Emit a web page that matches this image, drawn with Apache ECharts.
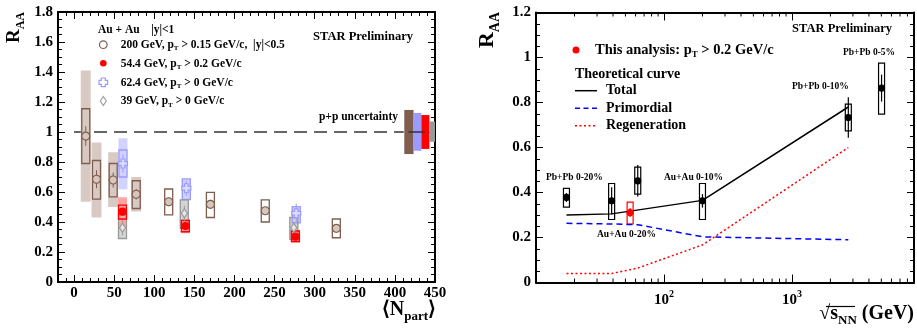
<!DOCTYPE html>
<html><head><meta charset="utf-8">
<script src="https://cdn.jsdelivr.net/npm/echarts@6/dist/echarts.min.js"></script>
<style>html,body{margin:0;padding:0;background:#fff}#c{width:917px;height:331px}</style>
</head><body><div id="c"></div>
<script>
// ---------------- Left panel: Au+Au R_AA vs <Npart> ----------------
const npart200 = [14.6, 28, 48.8, 77.5, 118, 170, 238.4, 327];
const raa200   = [0.973, 0.685, 0.68, 0.585, 0.535, 0.518, 0.475, 0.358];
const stat200  = [0.065, 0.06, 0.05, 0.035, 0.03, 0.03, 0.025, 0.025];
const box200   = [[0.79,1.155],[0.553,0.81],[0.567,0.79],[0.49,0.675],[0.447,0.62],[0.43,0.598],[0.40,0.547],[0.295,0.42]];
const band200  = [[0.535,1.41],[0.43,0.93],[0.5,0.865],[0.47,0.70],null,null,null,null];

const npart54 = [60.4, 138.8, 276];
const raa54   = [0.469, 0.373, 0.302];
const stat54  = [0.025, 0.02, 0.015];
const box54   = [[0.42,0.513],[0.335,0.41],[0.27,0.34]];
const band54  = [[0.37,0.565],[0.325,0.42],[0.262,0.348]];

const npart62 = [61, 140, 277];
const raa62   = [0.79, 0.625, 0.458];
const stat62  = [0.06, 0.05, 0.065];
const box62   = [[0.70,0.88],[0.55,0.687],[0.395,0.502]];
const band62  = [[0.618,0.958],[0.55,0.687],[0.395,0.502]];

const npart39 = [60.4, 137.5, 274];
const raa39   = [0.362, 0.458, 0.362];
const stat39  = [0.05, 0.05, 0.04];
const box39   = [[0.29,0.447],[0.358,0.547],[0.285,0.43]];
const band39  = [[0.29,0.447],[0.358,0.547],[0.285,0.43]];

// p+p normalisation uncertainty bars: [N_lo, N_hi, R_lo, R_hi]
const ppUnc = [[411.7,423.3,0.853,1.147],[423.3,433,0.875,1.127],[433,443,0.887,1.113],[443,450,0.935,1.07]];
const ppColors = ['#7f5e4f','#9a9aff','#ff0000','#999999'];

// ---------------- Right panel: R_AA vs sqrt(s_NN) ----------------
const energy  = [17.3, 39, 54.4, 62.4, 200, 2760, 5020];
const raaE    = [0.378, 0.363, 0.311, 0.452, 0.363, 0.733, 0.864];
const statE   = [0.02, 0.06, 0.02, 0.07, 0.03, 0.09, 0.06];
const boxE    = [[0.335,0.418],[0.28,0.44],[0.26,0.357],[0.393,0.513],[0.28,0.44],[0.674,0.793],[0.748,0.975]];
const thisAnalysisIndex = 2;
const sysLabels = ['Pb+Pb 0-20%','Au+Au 0-20%','Au+Au 0-10%','Pb+Pb 0-10%','Pb+Pb 0-5%'];

const thTotal = [[17.3,0.30],[39,0.305],[200,0.365],[2760,0.78]];
const thPrim  = [[17.3,0.263],[39,0.26],[62.4,0.257],[200,0.203],[2760,0.19]];
const thRegen = [[17.3,0.04],[39,0.04],[62.4,0.064],[200,0.167],[2760,0.6]];

const logMinorTicks = [20,30,40,50,60,70,80,90,200,300,400,500,600,700,800,900,2000,3000,4000,5000,6000,7000,8000];

// ---------------- styling ----------------
const F = '"Liberation Serif","Times New Roman",Times,serif';
const C200='#7f5e4f', B200='#d8cac2';
const C54='#ff0000',  B54='#ffa3a3';
const C62='#9a9aff',  B62='#d2d2ff';
const C39='#999999',  B39='#d4d4d4';

function rectSeries(xi, xs, ranges, w, fill, stroke, lw, z){
  const data = xs.map((x,i)=> ranges[i] ? [x, ranges[i][0], ranges[i][1]] : null).filter(Boolean);
  return {type:'custom', xAxisIndex:xi, yAxisIndex:xi, z, silent:true, data,
    renderItem(p, api){
      const a = api.coord([api.value(0), api.value(2)]);
      const b = api.coord([api.value(0), api.value(1)]);
      return {type:'rect', shape:{x:a[0]-w/2, y:a[1], width:w, height:b[1]-a[1]},
        style:{fill:fill, stroke:stroke, lineWidth:lw}};
    }};
}
function errSeries(xi, xs, ys, es, color, lw, z){
  const data = xs.map((x,i)=>[x, ys[i]-es[i], ys[i]+es[i]]);
  return {type:'custom', xAxisIndex:xi, yAxisIndex:xi, z, silent:true, data,
    renderItem(p, api){
      const a = api.coord([api.value(0), api.value(2)]);
      const b = api.coord([api.value(0), api.value(1)]);
      return {type:'line', shape:{x1:a[0], y1:a[1], x2:b[0], y2:b[1]}, style:{stroke:color, lineWidth:lw}};
    }};
}
function scatter(xi, xs, ys, symbol, size, fill, stroke, z){
  return {type:'scatter', xAxisIndex:xi, yAxisIndex:xi, z, silent:true, symbol, symbolSize:size,
    data: xs.map((x,i)=>[x, ys[i]]),
    itemStyle:{color:fill, borderColor:stroke, borderWidth:1.2, opacity:1}};
}
const crossPath = 'path://M3,0 L7,0 L7,3 L10,3 L10,7 L7,7 L7,10 L3,10 L3,7 L0,7 L0,3 L3,3 Z';

function rich(fs){
  return {
    a:{fontFamily:F, fontWeight:'bold', fontSize:fs, lineHeight:fs, verticalAlign:'top', color:'#000'},
    sub:{fontFamily:F, fontWeight:'bold', fontSize:Math.round(fs*0.65), verticalAlign:'bottom', padding:[Math.round(fs*0.55),0,0,0], color:'#000'},
    r:{fontFamily:F, fontWeight:'bold', fontSize:fs, lineHeight:fs, verticalAlign:'top', color:'#ff0000'}
  };
}
// text whose main line is vertically centered at cy
function txt(x, cy, text, fs, align, extra){
  return Object.assign({type:'text', x:x, y:cy-fs/2, silent:true,
    style:{text:text, rich:rich(fs), align:align||'left', verticalAlign:'top'}}, extra||{});
}

const baseX = (gi, pos, showLabel) => ({
  gridIndex:gi, position:pos, type:'value', min:-20, max:450, splitNumber:9,
  axisLine:{show:true, onZero:false, lineStyle:{color:'#000', width:2}},
  axisTick:{show:true, inside:true, length:7, lineStyle:{color:'#000', width:1}},
  minorTick:{show:true, splitNumber:5, length:4, lineStyle:{color:'#000', width:1}},
  splitLine:{show:false},
  axisLabel:{show:showLabel, margin:4, fontFamily:F, fontWeight:'bold', fontSize:15, color:'#000',
    formatter:v=> v<0 ? '' : String(v)}
});
const baseY = (gi, pos, max, showLabel) => ({
  gridIndex:gi, position:pos, type:'value', min:0, max:max, interval:0.2,
  axisLine:{show:true, onZero:false, lineStyle:{color:'#000', width:2}},
  axisTick:{show:true, inside:true, length:7, lineStyle:{color:'#000', width:1}},
  minorTick:{show:true, splitNumber:4, length:4, lineStyle:{color:'#000', width:1}},
  splitLine:{show:false},
  axisLabel:{show:showLabel, margin:5, fontFamily:F, fontWeight:'bold', fontSize:15, color:'#000'}
});
const logX = (pos, showLabel) => ({
  gridIndex:1, position:pos, type:'log', logBase:10, min:10, max:9000,
  axisLine:{show:true, onZero:false, lineStyle:{color:'#000', width:2}},
  axisTick:{show:true, inside:true, length:8, lineStyle:{color:'#000', width:1}},
  minorTick:{show:false}, splitLine:{show:false},
  axisLabel:{show:showLabel, margin:7, color:'#000',
    formatter:v=> v===100 ? '{b|10}{sup|2}' : (v===1000 ? '{b|10}{sup|3}' : ''),
    rich:{b:{fontFamily:F, fontWeight:'bold', fontSize:15, verticalAlign:'bottom'},
          sup:{fontFamily:F, fontWeight:'bold', fontSize:10, verticalAlign:'top', padding:[0,0,8,0]}}}
});

const series = [];
// left panel: bands
series.push(rectSeries(0, npart200, band200, 10, B200, null, 0, 1));
series.push(rectSeries(0, npart62, band62, 9, B62, null, 0, 1));
series.push(rectSeries(0, npart39, band39, 9, B39, null, 0, 1));
series.push(rectSeries(0, npart54, band54, 9, B54, null, 0, 1));
// boxes
series.push(rectSeries(0, npart200, box200, 8, 'rgba(0,0,0,0)', C200, 1.3, 2));
series.push(rectSeries(0, npart62, box62, 8, 'rgba(0,0,0,0)', C62, 1.3, 2));
series.push(rectSeries(0, npart39, box39, 8, 'rgba(0,0,0,0)', C39, 1.3, 2));
series.push(rectSeries(0, npart54, box54, 8, 'rgba(0,0,0,0)', C54, 1.3, 2));
// stat errors
series.push(errSeries(0, npart200, raa200, stat200, C200, 1, 3));
series.push(errSeries(0, npart62, raa62, stat62, C62, 1, 3));
series.push(errSeries(0, npart39, raa39, stat39, C39, 1, 3));
series.push(errSeries(0, npart54, raa54, stat54, C54, 1, 3));
// markers
series.push(scatter(0, npart200, raa200, 'circle', 8, '#d6c6bd', C200, 4));
series.push(scatter(0, npart62, raa62, crossPath, 9, '#dcdcff', C62, 4));
series.push(scatter(0, npart39, raa39, 'diamond', [6,9], '#e6e6e6', C39, 4));
series.push(scatter(0, npart54, raa54, 'circle', 7, C54, C54, 4));
// reference line at 1 and p+p uncertainty
series.push({type:'line', xAxisIndex:0, yAxisIndex:0, z:0, silent:true, symbol:'none',
  data:[[0,1],[411,1]], lineStyle:{color:'#666', width:2, type:[13,7]}});
series.push({type:'custom', xAxisIndex:0, yAxisIndex:0, z:1, silent:true, data:ppUnc,
  renderItem(p, api){
    const a = api.coord([api.value(0), api.value(3)]);
    const b = api.coord([api.value(1), api.value(2)]);
    return {type:'rect', shape:{x:a[0], y:a[1], width:b[0]-a[0], height:b[1]-a[1]},
      style:{fill:ppColors[p.dataIndex]}};
  }});
series.push({type:'line', xAxisIndex:0, yAxisIndex:0, z:2, silent:true, symbol:'none',
  data:[[417,1],[437,1]], lineStyle:{color:'#333', width:1.5}});

// right panel
const idxOthers = energy.map((e,i)=>i).filter(i=>i!==thisAnalysisIndex);
const pick = (arr, idx) => idx.map(i=>arr[i]);
series.push(rectSeries(1, pick(energy,idxOthers), pick(boxE,idxOthers), 6, 'rgba(0,0,0,0)', '#000', 1.2, 2));
series.push(rectSeries(1, [energy[thisAnalysisIndex]], [boxE[thisAnalysisIndex]], 6, 'rgba(0,0,0,0)', '#ff0000', 1.2, 2));
series.push(errSeries(1, pick(energy,idxOthers), pick(raaE,idxOthers), pick(statE,idxOthers), '#000', 1.2, 3));
series.push(errSeries(1, [energy[thisAnalysisIndex]], [raaE[thisAnalysisIndex]], [statE[thisAnalysisIndex]], '#ff0000', 1.2, 3));
series.push(scatter(1, pick(energy,idxOthers), pick(raaE,idxOthers), 'circle', 6, '#000', '#000', 4));
series.push(scatter(1, [energy[thisAnalysisIndex]], [raaE[thisAnalysisIndex]], 'circle', 6, '#ff0000', '#ff0000', 4));
series.push({type:'line', xAxisIndex:1, yAxisIndex:1, z:2, silent:true, symbol:'none', data:thTotal,
  lineStyle:{color:'#000', width:1.5}});
series.push({type:'line', xAxisIndex:1, yAxisIndex:1, z:2, silent:true, symbol:'none', data:thPrim,
  lineStyle:{color:'#0000ff', width:1.5, type:[6,4]}});
series.push({type:'line', xAxisIndex:1, yAxisIndex:1, z:2, silent:true, symbol:'none', data:thRegen,
  lineStyle:{color:'#ff0000', width:1.5, type:[2,2.5]}});
// log minor ticks (bottom and top) through the log scale
series.push({type:'custom', xAxisIndex:1, yAxisIndex:1, z:5, silent:true, clip:false,
  data:logMinorTicks.map(v=>[v,0]),
  renderItem(p, api){
    const b = api.coord([api.value(0), 0]);
    const t = api.coord([api.value(0), 1.2]);
    return {type:'group', children:[
      {type:'line', shape:{x1:b[0], y1:b[1], x2:b[0], y2:b[1]-4}, style:{stroke:'#000', lineWidth:1}},
      {type:'line', shape:{x1:t[0], y1:t[1], x2:t[0], y2:t[1]+4}, style:{stroke:'#000', lineWidth:1}}
    ]};
  }});

// ---------------- texts / legends ----------------
const graphic = [
  // left legend
  txt(98, 30, '{a|Au + Au    |y|<1}', 11.5),
  {type:'circle', shape:{cx:103.3, cy:44.7, r:3.8}, style:{fill:'#fff', stroke:C200, lineWidth:1.2}, silent:true},
  txt(120.7, 44.7, '{a|200 GeV, p}{sub|T}{a| > 0.15 GeV/c,  |y|<0.5}', 11.5),
  {type:'circle', shape:{cx:103.3, cy:63.3, r:3.3}, style:{fill:C54}, silent:true},
  txt(120.7, 63.3, '{a|54.4 GeV, p}{sub|T}{a| > 0.2 GeV/c}', 11.5),
  {type:'polygon', shape:{points:[[101.3,78],[105.3,78],[105.3,80.3],[107.6,80.3],[107.6,84.3],[105.3,84.3],[105.3,86.6],[101.3,86.6],[101.3,84.3],[99,84.3],[99,80.3],[101.3,80.3]]}, style:{fill:'#fff', stroke:C62, lineWidth:1.2}, silent:true},
  txt(120.7, 82.3, '{a|62.4 GeV, p}{sub|T}{a| > 0 GeV/c}', 11.5),
  {type:'polygon', shape:{points:[[103.3,96.5],[106.3,101],[103.3,105.5],[100.3,101]]}, style:{fill:'#fff', stroke:C39, lineWidth:1.1}, silent:true},
  txt(120.7, 101, '{a|39 GeV, p}{sub|T}{a| > 0 GeV/c}', 11.5),
  txt(413, 36.7, '{r|STAR Preliminary}', 12.5, 'right'),
  txt(398, 116.7, '{a|p+p uncertainty}', 11.5, 'right'),
  // left axis titles
  {type:'text', x:16, y:12, rotation:Math.PI/2, silent:true,
    style:{text:'{R|R}{s|AA}', align:'right', verticalAlign:'middle',
      rich:{R:{fontFamily:F, fontWeight:'bold', fontSize:19, lineHeight:19, verticalAlign:'top'},
            s:{fontFamily:F, fontWeight:'bold', fontSize:12, verticalAlign:'bottom', padding:[10,0,0,0]}}}},
  {type:'text', x:436, y:300, silent:true,
    style:{text:'{R|⟨N}{s|part}{R|⟩}', align:'right', verticalAlign:'top',
      rich:{R:{fontFamily:F, fontWeight:'bold', fontSize:20, lineHeight:20, verticalAlign:'top'},
            s:{fontFamily:F, fontWeight:'bold', fontSize:13, verticalAlign:'bottom', padding:[10,0,0,0]}}}},
  // right legend
  {type:'circle', shape:{cx:576, cy:50, r:3.5}, style:{fill:'#ff0000'}, silent:true},
  txt(595, 49.5, '{a|This analysis: p}{sub|T}{a| > 0.2 GeV/c}', 14.5),
  txt(575, 74.3, '{a|Theoretical curve}', 14),
  {type:'line', shape:{x1:575, y1:90.7, x2:597, y2:90.7}, style:{stroke:'#000', lineWidth:1.5}, silent:true},
  txt(606, 90.7, '{a|Total}', 14),
  {type:'line', shape:{x1:575, y1:108.3, x2:597, y2:108.3}, style:{stroke:'#0000ff', lineWidth:1.5, lineDash:[5,3.5]}, silent:true},
  txt(606, 108.3, '{a|Primordial}', 14),
  {type:'line', shape:{x1:575, y1:125.7, x2:597, y2:125.7}, style:{stroke:'#ff0000', lineWidth:1.5, lineDash:[2,2.5]}, silent:true},
  txt(606, 125.7, '{a|Regeneration}', 14),
  txt(892, 29, '{r|STAR Preliminary}', 12.5, 'right'),
  // system labels
  txt(546, 177.7, '{a|'+sysLabels[0]+'}', 9.5),
  txt(597, 234, '{a|'+sysLabels[1]+'}', 9.5),
  txt(664, 177.7, '{a|'+sysLabels[2]+'}', 9.5),
  txt(792, 86.7, '{a|'+sysLabels[3]+'}', 9.5),
  txt(843, 52.7, '{a|'+sysLabels[4]+'}', 9.5),
  // right axis titles
  {type:'text', x:489, y:12, rotation:Math.PI/2, silent:true,
    style:{text:'{R|R}{s|AA}', align:'right', verticalAlign:'middle',
      rich:{R:{fontFamily:F, fontWeight:'bold', fontSize:22, lineHeight:22, verticalAlign:'top'},
            s:{fontFamily:F, fontWeight:'bold', fontSize:14, verticalAlign:'bottom', padding:[12,0,0,0]}}}},
  {type:'text', x:914, y:304, silent:true,
    style:{text:'{R|√s}{s|NN}{R| (GeV)}', align:'right', verticalAlign:'top',
      rich:{R:{fontFamily:F, fontWeight:'bold', fontSize:20, lineHeight:20, verticalAlign:'top'},
            s:{fontFamily:F, fontWeight:'bold', fontSize:13, verticalAlign:'bottom', padding:[10,0,0,0]}}}},
  {type:'line', shape:{x1:826, y1:306.5, x2:855, y2:306.5}, style:{stroke:'#000', lineWidth:1.2}, silent:true}
];

const option = {
  animation:false,
  backgroundColor:'#fff',
  grid:[
    {left:58, top:12, width:377, height:270, containLabel:false},
    {left:536, top:12.5, width:378, height:270, containLabel:false}
  ],
  xAxis:[baseX(0,'bottom',true), logX('bottom',true), baseX(0,'top',false), logX('top',false)],
  yAxis:[baseY(0,'left',1.8,true), baseY(1,'left',1.2,true), baseY(0,'right',1.8,false), baseY(1,'right',1.2,false)],
  series:series,
  graphic:graphic
};
const chart = echarts.init(document.getElementById('c'), null, {renderer:'canvas'});
chart.setOption(option);
</script>
</body></html>
